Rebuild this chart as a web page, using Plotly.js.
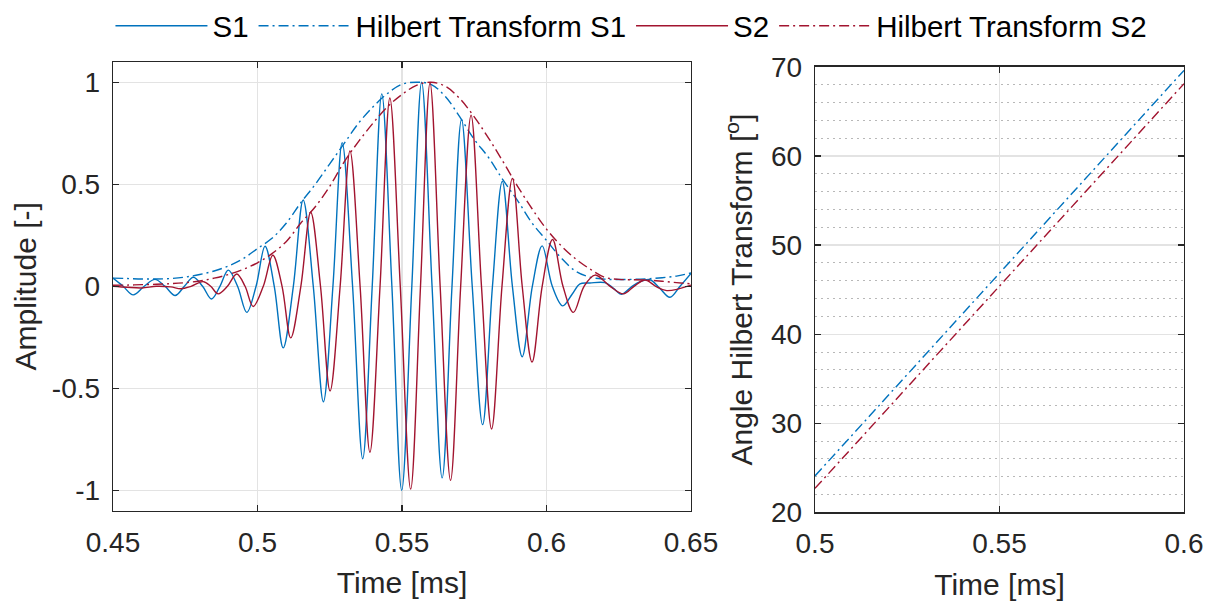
<!DOCTYPE html>
<html>
<head>
<meta charset="utf-8">
<script src="https://cdn.plot.ly/plotly-3.0.1.min.js"></script>
<style>
  html, body { margin: 0; padding: 0; background: #ffffff; }
  #chart { width: 1212px; height: 603px; }
</style>
</head>
<body>
<div id="chart"></div>
<script>
// Signal S1: time [ms] and amplitude [-]
const s1Time = [0.45, 0.4535, 0.457, 0.4608, 0.4645, 0.468, 0.4715, 0.4747, 0.4778, 0.481, 0.4841, 0.487, 0.4899, 0.4931, 0.4963, 0.4995, 0.5026, 0.5058, 0.5089, 0.5124, 0.5158, 0.5193, 0.5228, 0.5261, 0.5293, 0.5329, 0.5364, 0.5397, 0.5430, 0.5465, 0.5499, 0.5534, 0.5568, 0.5604, 0.5639, 0.5673, 0.5706, 0.5743, 0.5779, 0.5813, 0.5847, 0.5882, 0.5916, 0.5951, 0.5985, 0.602, 0.6056, 0.6088, 0.6116, 0.615, 0.6202, 0.6232, 0.626, 0.6292, 0.6324, 0.6358, 0.6392, 0.6427, 0.6462, 0.65];
const s1Amp = [0.040, 0.0, -0.042, 0.0, 0.034, 0.0, -0.045, 0.0, 0.044, 0.0, -0.062, 0.0, 0.079, 0.0, -0.128, 0.0, 0.196, 0.0, -0.302, 0.0, 0.423, 0.0, -0.566, 0.0, 0.704, 0.0, -0.845, 0.0, 0.943, 0.0, -1.0, 0.0, 1.0, 0.0, -0.939, 0.0, 0.817, 0.0, -0.678, 0.0, 0.514, 0.0, -0.345, 0.0, 0.198, 0.0, -0.096, -0.040, 0.012, 0.016, 0.018, -0.010, -0.039, -0.005, 0.023, 0.032, -0.010, -0.054, 0.0, 0.063];

// Signal S2
const s2Time = [0.45, 0.455, 0.46, 0.465, 0.47, 0.4735, 0.477, 0.4812, 0.4838, 0.4864, 0.4896, 0.4928, 0.4957, 0.4985, 0.502, 0.5053, 0.5085, 0.5115, 0.515, 0.5184, 0.5218, 0.5251, 0.5286, 0.5320, 0.5355, 0.5389, 0.5424, 0.5458, 0.5494, 0.5530, 0.5564, 0.5597, 0.5632, 0.5668, 0.5703, 0.5739, 0.5775, 0.5810, 0.5846, 0.5882, 0.5916, 0.5950, 0.5985, 0.6021, 0.6057, 0.6093, 0.613, 0.6168, 0.622, 0.6266, 0.6303, 0.6341, 0.6378, 0.6416, 0.65];
const s2Amp = [0.0, -0.005, -0.008, 0.0, -0.003, -0.012, 0.0, 0.023, 0.0, -0.037, 0.0, 0.060, 0.0, -0.099, 0.0, 0.152, 0.0, -0.253, 0.0, 0.363, 0.0, -0.513, 0.0, 0.663, 0.0, -0.813, 0.0, 0.923, 0.0, -0.994, 0.0, 0.996, 0.0, -0.951, 0.0, 0.838, 0.0, -0.699, 0.0, 0.529, 0.0, -0.371, 0.0, 0.229, 0.0, -0.128, 0.0, 0.055, 0.0, -0.037, 0.0, 0.031, 0.0, -0.021, 0.006];

// Hilbert transform magnitudes (envelopes)
const envTime = [0.45, 0.455, 0.46, 0.465, 0.47, 0.475, 0.48, 0.485, 0.49, 0.495, 0.50, 0.505, 0.51, 0.515, 0.52, 0.525, 0.53, 0.535, 0.54, 0.545, 0.55, 0.555, 0.56, 0.565, 0.57, 0.575, 0.58, 0.585, 0.59, 0.595, 0.60, 0.605, 0.61, 0.615, 0.62, 0.625, 0.63, 0.635, 0.64, 0.645, 0.65];
const env1 = [0.040, 0.038, 0.036, 0.036, 0.038, 0.045, 0.058, 0.075, 0.100, 0.135, 0.185, 0.235, 0.310, 0.410, 0.500, 0.600, 0.700, 0.800, 0.880, 0.945, 0.990, 1.000, 0.990, 0.930, 0.830, 0.720, 0.630, 0.520, 0.420, 0.310, 0.225, 0.140, 0.075, 0.045, 0.035, 0.033, 0.034, 0.037, 0.042, 0.050, 0.065];
const env2 = [0.005, 0.006, 0.008, 0.010, 0.013, 0.018, 0.026, 0.040, 0.058, 0.083, 0.115, 0.160, 0.220, 0.310, 0.390, 0.490, 0.610, 0.710, 0.800, 0.880, 0.940, 0.985, 1.000, 0.980, 0.920, 0.830, 0.725, 0.610, 0.490, 0.380, 0.280, 0.200, 0.135, 0.085, 0.045, 0.034, 0.032, 0.030, 0.025, 0.018, 0.012];

// Hilbert transform angle [deg]
const angTime = [0.5, 0.55, 0.6];
const ang1 = [24.1, 46.9, 69.6];
const ang2 = [22.7, 45.4, 68.1];

// Axis tick labels
const ampTickVals = [-1, -0.5, 0, 0.5, 1];
const ampTickText = ['-1', '-0.5', '0', '0.5', '1'];
const timeTickVals = [0.45, 0.5, 0.55, 0.6, 0.65];
const timeTickText = ['0.45', '0.5', '0.55', '0.6', '0.65'];
const angTimeTickVals = [0.5, 0.55, 0.6];
const angTimeTickText = ['0.5', '0.55', '0.6'];
const angTickVals = [20, 30, 40, 50, 60, 70];

const BLUE = '#0072BD';
const RED = '#A2142F';
const INK = '#262626';
const DASHDOT = '10px,4px,2px,4px';
const FONT = 'Liberation Sans, Arial, Helvetica, sans-serif';
const TITLE_FONT = { family: FONT, size: 30, color: INK };

const traces = [
  { x: s1Time, y: s1Amp, name: 'S1', type: 'scatter', mode: 'lines',
    line: { color: BLUE, width: 1.4, shape: 'spline', smoothing: 1 }, xaxis: 'x', yaxis: 'y' },
  { x: envTime, y: env1, name: 'Hilbert Transform S1', type: 'scatter', mode: 'lines',
    line: { color: BLUE, width: 1.4, dash: DASHDOT, shape: 'spline', smoothing: 1 }, xaxis: 'x', yaxis: 'y' },
  { x: s2Time, y: s2Amp, name: 'S2', type: 'scatter', mode: 'lines',
    line: { color: RED, width: 1.4, shape: 'spline', smoothing: 1 }, xaxis: 'x', yaxis: 'y' },
  { x: envTime, y: env2, name: 'Hilbert Transform S2', type: 'scatter', mode: 'lines',
    line: { color: RED, width: 1.4, dash: DASHDOT, shape: 'spline', smoothing: 1 }, xaxis: 'x', yaxis: 'y' },
  { x: angTime, y: ang1, name: 'Angle S1', type: 'scatter', mode: 'lines', showlegend: false,
    line: { color: BLUE, width: 1.4, dash: DASHDOT }, xaxis: 'x2', yaxis: 'y2' },
  { x: angTime, y: ang2, name: 'Angle S2', type: 'scatter', mode: 'lines', showlegend: false,
    line: { color: RED, width: 1.4, dash: DASHDOT }, xaxis: 'x2', yaxis: 'y2' }
];

const axisCommon = {
  showline: true, linecolor: INK, linewidth: 1.3, mirror: 'allticks',
  ticks: 'inside', ticklen: 6, tickwidth: 1.3, tickcolor: INK,
  showgrid: true, gridcolor: '#e3e3e3', gridwidth: 1.3, zeroline: false,
  tickfont: { family: FONT, size: 28, color: INK }, tickmode: 'array'
};

const layout = {
  width: 1212, height: 603,
  margin: { l: 0, r: 0, t: 0, b: 0 },
  paper_bgcolor: '#ffffff', plot_bgcolor: '#ffffff',
  font: { family: FONT, color: INK, size: 28 },
  showlegend: true,
  legend: {
    orientation: 'h', x: 0.521, xanchor: 'center', y: 0.965, yanchor: 'middle',
    font: { family: FONT, size: 29.5, color: '#000000' }, itemwidth: 92,
    bgcolor: 'rgba(0,0,0,0)', traceorder: 'normal'
  },
  xaxis: Object.assign({}, axisCommon, {
    domain: [113 / 1212, 691 / 1212], range: [0.45, 0.65], anchor: 'y',
    tickvals: timeTickVals, ticktext: timeTickText, ticklabelstandoff: 6,
    title: { text: 'Time [ms]', font: TITLE_FONT, standoff: 15 }
  }),
  yaxis: Object.assign({}, axisCommon, {
    domain: [1 - 510 / 603, 1 - 57.3 / 603], range: [-1.1, 1.1], anchor: 'x',
    tickvals: ampTickVals, ticktext: ampTickText, ticklabelstandoff: 6,
    title: { text: 'Amplitude [-]', font: TITLE_FONT, standoff: 6 }
  }),
  xaxis2: Object.assign({}, axisCommon, {
    domain: [815 / 1212, 1184 / 1212], range: [0.5, 0.6], anchor: 'y2',
    tickvals: angTimeTickVals, ticktext: angTimeTickText, ticklabelstandoff: 6,
    title: { text: 'Time [ms]', font: TITLE_FONT, standoff: 15 }
  }),
  yaxis2: Object.assign({}, axisCommon, {
    domain: [1 - 511.7 / 603, 1 - 62.3 / 603], range: [20, 70], anchor: 'x2',
    tickvals: angTickVals, ticklabelstandoff: 6,
    minor: { tickmode: 'linear', tick0: 20, dtick: 2, showgrid: true, griddash: '2px,4px', gridcolor: '#b8b8b8', gridwidth: 1, ticks: '' },
    title: { text: 'Angle Hilbert Transform [<sup>o</sup>]', font: TITLE_FONT, standoff: 9 }
  })
};

Plotly.newPlot('chart', traces, layout, { displayModeBar: false, staticPlot: true });
</script>
</body>
</html>
